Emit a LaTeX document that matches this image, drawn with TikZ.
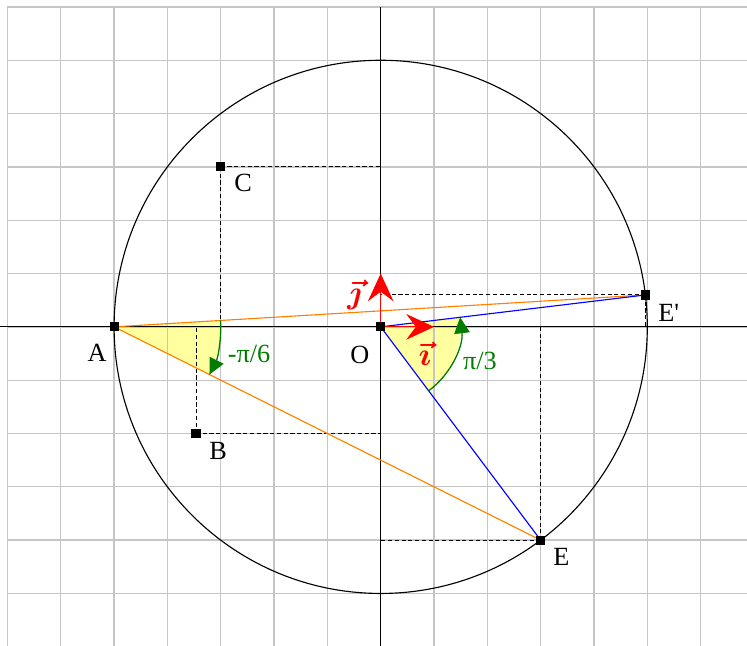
\documentclass[tikz,border=0pt]{standalone}
\usepackage{fontspec}
\setmainfont{Liberation Serif}
\newfontfamily\primefont{Liberation Serif}
\usetikzlibrary{arrows.meta}

\definecolor{angfill}{RGB}{255,255,160}
\definecolor{anggreen}{RGB}{0,125,0}
\definecolor{segorange}{RGB}{255,128,0}

\begin{document}
\begin{tikzpicture}[every node/.style={font=\fontsize{14}{16}\selectfont}, pt/.style={fill=black, minimum size=0.17cm, inner sep=0pt}, proj/.style={dash pattern=on 2.2pt off 1.4pt, line width=0.5pt}, ang/.style={anggreen, line width=0.7pt, -{Triangle[length=3mm, width=2.9mm]}}, vec/.style={red, line width=0.6pt, -{Stealth[length=5.2mm, width=4.8mm, inset=1.8mm]}}]
	\useasboundingbox (-7.14,-5.98) rectangle (6.87,6.13);
	\clip (-7.14,-5.98) rectangle (6.87,6.13);
	% points
	\coordinate (O) at (0,0);
	\coordinate (A) at (-5,0);
	\coordinate (C) at (-3,3);
	\coordinate (B) at ({-2*sqrt(3)},-2);
	\coordinate (E) at (3,-4);
	\coordinate (E') at (4.9641,0.5981);
	\coordinate (I) at (1,0);
	\coordinate (J) at (0,1);
	% angle sectors
	\fill[angfill] (A) -- ++(3.435:2) arc (3.435:-26.565:2) -- cycle;
	\fill[angfill] (O) -- ++(-53.13:1.5) arc (-53.13:6.87:1.5) -- cycle;
	\draw[gray!45, line width=0.7pt] (-7,-7) grid (7,6);
	\draw[line width=0.6pt] (-7.14,0) -- (6.87,0);
	\draw[line width=0.6pt] (0,-5.98) -- (0,6);
	\draw[line width=0.6pt] (O) circle (5);
	% projections on the axes
	\foreach \p in {C,B,E,E'} {\draw[proj] (\p) -- (\p |- O); \draw[proj] (\p) -- (O |- \p);}
	\draw[segorange, line width=0.6pt] (A) -- (E') (A) -- (E);
	\draw[blue, line width=0.6pt] (O) -- (E') (O) -- (E);
	\draw[ang] (A) ++(3.435:2) arc (3.435:-26.565:2);
	\draw[ang] (O) ++(-53.13:1.5) arc (-53.13:6.87:1.5);
	\draw[vec] (O) -- (I);
	\draw[vec] (O) -- (J);
	\foreach \p in {O,A,C,B,E,E'} {\node[pt] (n\p) at (\p) {};}
	% labels
	\node (lA) at (-5.32,-0.48) {A};
	\node (lO) at (-0.39,-0.52) {O};
	\node (lC) at (-2.58,2.70) {C};
	\node (lB) at (-3.05,-2.32) {B};
	\node (lE) at (3.39,-4.31) {E};
	\node (lE') at (5.40,0.26) {\primefont E'};
	\node[red, font=\fontsize{17}{18}\selectfont\boldmath] (li) at (0.83,-0.50) {$\vec{\imath}$};
	\node[red, font=\fontsize{17}{18}\selectfont\boldmath] (lj) at (-0.49,0.60) {$\vec{\jmath}$};
	\node[anggreen] (lang1) at (-2.47,-0.50) {-π/6};
	\node[anggreen] (lang2) at (1.86,-0.63) {π/3};
\end{tikzpicture}
\end{document}
